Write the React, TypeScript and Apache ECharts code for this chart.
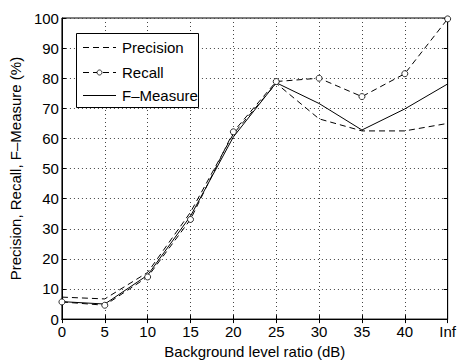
import React, { useEffect, useRef } from "react";
import * as echarts from "echarts";

const categories = ["0", "5", "10", "15", "20", "25", "30", "35", "40", "Inf"];
const precision = [7.3, 6.7, 15.5, 35.5, 61.5, 78.3, 66.5, 62.5, 62.5, 65.0];
const recall = [5.7, 4.6, 14.0, 33.1, 62.2, 78.9, 80.0, 73.9, 81.5, 99.7];
const fmeasure = [5.8, 5.0, 14.6, 34.2, 60.5, 78.5, 71.6, 62.8, 69.8, 78.1];
const yTicks = { min: 0, max: 100, interval: 10 };
const seriesNames = ["Precision", "Recall", "F–Measure"];

const FONT = "'Liberation Sans', Arial, Helvetica, sans-serif";

export default function App() {
  const ref = useRef<HTMLDivElement>(null);
  useEffect(() => {
    if (!ref.current) return;
    const chart = echarts.init(ref.current, null, { renderer: "svg" });
    const dotted = { show: true, lineStyle: { type: [1, 3], color: "#444", width: 1 } };
    const label = { color: "#000", fontSize: 15, fontFamily: FONT };
    const dash = [6, 4];
    const legendRows = [47, 72, 95];
    const legendGraphics: any[] = [
      { type: "rect", shape: { x: 76.5, y: 33.5, width: 122, height: 74 }, style: { fill: "#fff", stroke: "#000", lineWidth: 1 }, z: 10 },
    ];
    seriesNames.forEach((n, i) => {
      const y = legendRows[i];
      legendGraphics.push({
        type: "line",
        shape: { x1: 83, y1: y + 0.5, x2: 116, y2: y + 0.5 },
        style: { stroke: "#000", lineWidth: 1, lineDash: i === 2 ? null : dash },
        z: 11,
      });
      if (i === 1) {
        legendGraphics.push({ type: "circle", shape: { cx: 99.5, cy: y + 0.5, r: 2.5 }, style: { fill: "#fff", stroke: "#000", lineWidth: 0.8 }, z: 12 });
      }
      legendGraphics.push({
        type: "text",
        x: 122,
        y: y,
        style: { text: n, fill: "#000", fontSize: 15, fontFamily: FONT, verticalAlign: "middle", align: "left" },
        z: 11,
      });
    });
    chart.setOption({
      animation: false,
      backgroundColor: "#fff",
      textStyle: { fontFamily: FONT },
      grid: { left: 60, right: 11, top: 18, bottom: 36, show: true, borderColor: "#000", borderWidth: 1, backgroundColor: "transparent" },
      graphic: legendGraphics,
      xAxis: [
        {
          type: "category",
          data: categories,
          boundaryGap: false,
          axisLine: { show: true, lineStyle: { color: "#000" } },
          axisTick: { show: true, inside: true, length: 4, lineStyle: { color: "#000" } },
          axisLabel: { ...label, margin: 5, interval: 0 },
          splitLine: dotted,
          name: "Background level ratio (dB)",
          nameLocation: "middle",
          nameGap: 22,
          nameTextStyle: label,
        },
        {
          type: "category",
          data: categories,
          boundaryGap: false,
          position: "top",
          axisLine: { show: true, lineStyle: { color: "#000" } },
          axisTick: { show: true, inside: true, length: 4, lineStyle: { color: "#000" } },
          axisLabel: { show: false },
          splitLine: { show: false },
        },
      ],
      yAxis: [
        {
          type: "value",
          ...yTicks,
          axisLine: { show: true, lineStyle: { color: "#000" } },
          axisTick: { show: true, inside: true, length: 4, lineStyle: { color: "#000" } },
          axisLabel: { ...label, margin: 3 },
          splitLine: dotted,
          name: "Precision, Recall, F–Measure (%)",
          nameLocation: "middle",
          nameGap: 33,
          nameTextStyle: label,
        },
        {
          type: "value",
          ...yTicks,
          position: "right",
          axisLine: { show: true, lineStyle: { color: "#000" } },
          axisTick: { show: true, inside: true, length: 4, lineStyle: { color: "#000" } },
          axisLabel: { show: false },
          splitLine: { show: false },
        },
      ],
      series: [
        {
          name: seriesNames[0],
          type: "line",
          data: precision,
          symbol: "none",
          lineStyle: { color: "#000", width: 1, type: dash },
          itemStyle: { color: "#000" },
        },
        {
          name: seriesNames[1],
          type: "line",
          data: recall,
          symbol: "circle",
          symbolSize: 6,
          lineStyle: { color: "#000", width: 1, type: dash },
          itemStyle: { color: "#fff", borderColor: "#000", borderWidth: 0.8 },
        },
        {
          name: seriesNames[2],
          type: "line",
          data: fmeasure,
          symbol: "none",
          lineStyle: { color: "#000", width: 1, type: "solid" },
          itemStyle: { color: "#000" },
        },
      ],
    });
    return () => chart.dispose();
  }, []);
  return <div ref={ref} style={{ width: 459, height: 364, position: "absolute", left: 0, top: 0 }} />;
}
